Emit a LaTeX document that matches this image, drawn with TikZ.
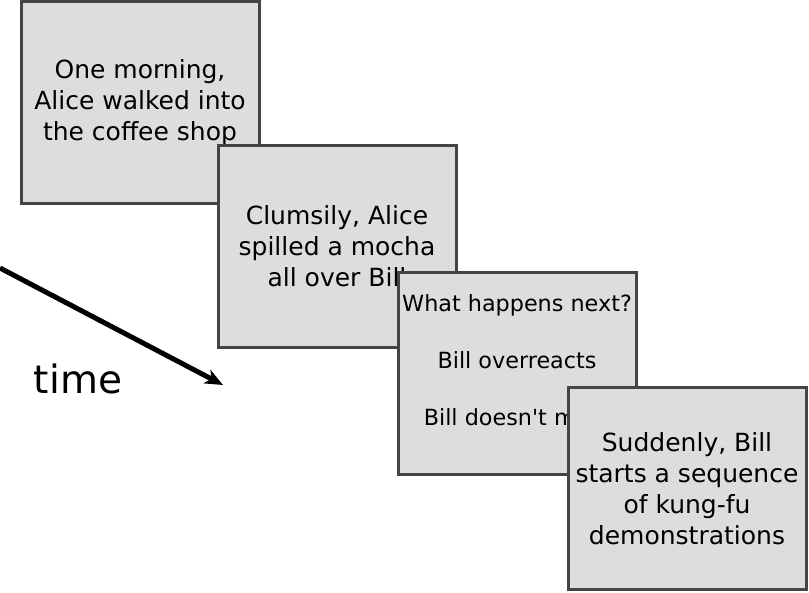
\documentclass[tikz,border=0pt]{standalone}
\usepackage{fontspec}
\setmainfont{DejaVu Sans}[Ligatures=ResetAll]
\usetikzlibrary{arrows.meta}
\definecolor{boxfill}{HTML}{DDDDDD}
\definecolor{boxline}{HTML}{444444}
\begin{document}
\begin{tikzpicture}[x=1pt,y=1pt,
  card/.style={draw=boxline,fill=boxfill,line width=3pt,minimum width=238pt,minimum height=202pt,inner sep=0pt,align=center,font=\fontsize{25}{31}\selectfont},
  smalltext/.style={align=center,font=\fontsize{22.3}{28.4}\selectfont,inner sep=0pt},
  timearrow/.style={line width=5pt,-{Stealth[length=18pt,width=15pt,inset=5pt]}}]
\useasboundingbox (0,0) rectangle (809,-593);
\coordinate (t0) at (0,-268);
\coordinate (t1) at (223,-385);
\draw[timearrow] (t0) -- (t1);
\node[font=\fontsize{39}{45}\selectfont] (time) at (78,-379) {time};
\node[card] (b1) at (140,-103) {One morning,\\Alice walked into\\the coffee shop};
\node[card] (b2) at (337,-246.5) {Clumsily, Alice\\spilled a mocha\\all over Bill};
\node[card] (b3) at (517,-373.5) {};
\node[smalltext] (b3t) at (517,-360) {What happens next?\\[28.4pt]Bill overreacts\\[28.4pt]Bill doesn\textquotesingle t mind};
\node[card] (b4) at (687,-488.5) {Suddenly, Bill\\starts a sequence\\of kung-fu\\demonstrations};
\end{tikzpicture}
\end{document}
